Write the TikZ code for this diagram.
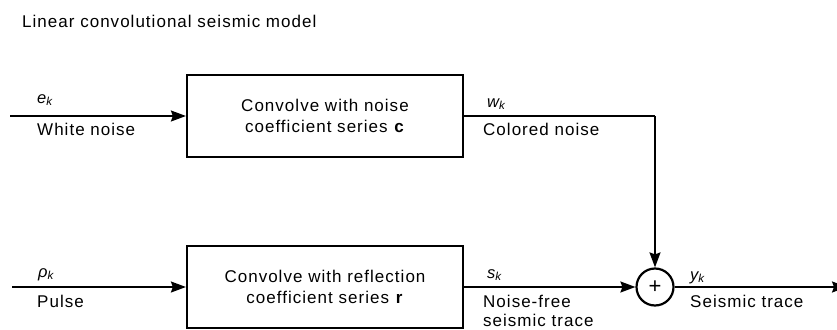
\documentclass[tikz,border=0pt]{standalone}
\usepackage{fontspec}
\setmainfont{Liberation Sans}[LetterSpace=6]
\usetikzlibrary{arrows.meta}
\begin{document}
\begin{tikzpicture}[x=1pt,y=-1pt,
  lbl/.style={anchor=base west,inner sep=0pt,font=\fontsize{17}{20.4}\selectfont},
  sub/.style={anchor=base west,inner sep=0pt,font=\fontsize{16.5}{19}\selectfont\itshape},
  blk/.style={draw,line width=2.2pt,minimum width=276pt,minimum height=82pt,align=center,inner sep=0pt,font=\fontsize{17}{20.4}\selectfont},
  conn/.style={line width=1.7pt,-{Stealth[length=15pt,width=11pt,inset=2pt]}},
  sumst/.style={draw,circle,line width=2.2pt,minimum size=37pt,inner sep=0pt,font=\fontsize{22}{22}\selectfont}]
\useasboundingbox (0,0) rectangle (837,329);
\node[lbl] (title) at (22,28) {Linear convolutional seismic model};
\node[blk] (c) at (325,116) {Convolve with noise\\coefficient series \textbf{c}};
\node[blk] (r) at (325,287) {Convolve with reflection\\coefficient series \textbf{r}};
\node[sumst] (sum) at (655,287) {+};
\coordinate (in1) at (10,116);
\coordinate (in2) at (12,287);
\coordinate (corner) at (655,116);
\coordinate (out) at (847,287);
\draw[conn] (in1) -- (c.west);
\draw[line width=1.7pt] (c.east) -- (corner);
\draw[conn] (corner) -- (sum.north);
\draw[conn] (in2) -- (r.west);
\draw[conn] (r.east) -- (sum.west);
\draw[conn] (sum.east) -- (out);
\node[sub] (ek) at (37,103) {e\textsubscript{k}};
\node[lbl] (wn) at (37,135) {White noise};
\node[sub] (wk) at (487,107) {w\textsubscript{k}};
\node[lbl] (cn) at (483,135) {Colored noise};
\node[sub] (pk) at (38,277) {ρ\textsubscript{k}};
\node[lbl] (pu) at (37,307) {Pulse};
\node[sub] (sk) at (487,278) {s\textsubscript{k}};
\node[lbl] (nf) at (483,307) {Noise-free};
\node[lbl] (st) at (483,326) {seismic trace};
\node[sub] (yk) at (690,280) {y\textsubscript{k}};
\node[lbl] (sei) at (690,307) {Seismic trace};
\end{tikzpicture}
\end{document}
